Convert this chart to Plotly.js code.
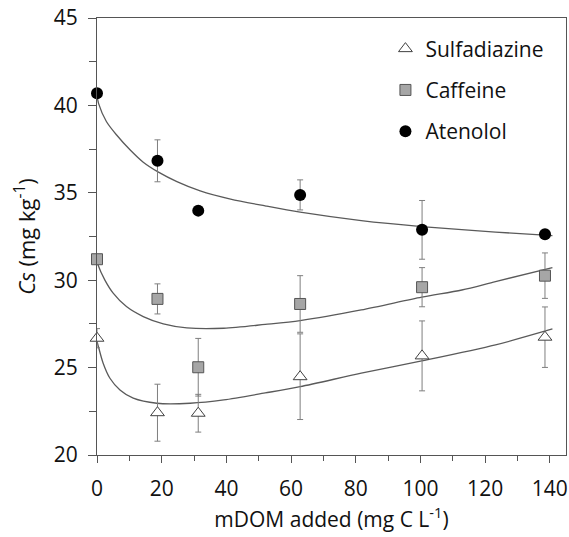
<!DOCTYPE html>
<html>
<head>
<meta charset="utf-8">
<script src="https://cdn.plot.ly/plotly-3.0.1.min.js"></script>
<style>html,body{margin:0;padding:0;background:#fff;}#chart{width:569px;height:537px;}</style>
</head>
<body>
<div id="chart"></div>
<script>
// Measured points (mDOM added, mg C/L)
const doseX = [0, 18.7, 31.3, 62.8, 100.5, 138.5];

const sulfadiazineY   = [26.68, 22.42, 22.39, 24.48, 25.67, 26.74];
const sulfadiazineErr = [0.55, 1.63, 1.08, 2.45, 2.0, 1.73];
const caffeineY       = [31.2, 28.93, 25.02, 28.64, 29.6, 30.26];
const caffeineErr     = [0, 0.86, 1.65, 1.62, 1.12, 1.3];
const atenololY       = [40.7, 36.83, 33.98, 34.88, 32.88, 32.63];
const atenololErr     = [0, 1.2, 0, 0.86, 1.68, 0];

// Fitted curves
const atenololFitX = [0, 0.5, 2.9, 6.0, 10.2, 14.3, 19.0, 24.7, 31.9, 41.3, 52, 62.8, 81.7, 100.4, 123.2, 140.8];
const atenololFitY = [40.6, 40.1, 39.08, 38.32, 37.46, 36.75, 36.18, 35.64, 35.11, 34.64, 34.25, 33.89, 33.41, 33.07, 32.75, 32.55];
const caffeineFitX = [0, 0.3, 2.4, 5.0, 9.1, 14.3, 20.5, 27.8, 39.2, 52, 62.8, 81.7, 100.4, 112.8, 123.2, 140.8];
const caffeineFitY = [31.1, 30.88, 30.02, 29.26, 28.49, 27.92, 27.5, 27.27, 27.25, 27.47, 27.69, 28.30, 29.03, 29.44, 29.92, 30.72];
const sulfaFitX = [0, 0.3, 1.9, 4.0, 7.1, 11.2, 18.5, 28.8, 39.2, 52, 62.8, 81.7, 100.4, 123.2, 140.8];
const sulfaFitY = [26.5, 26.3, 25.25, 24.39, 23.72, 23.25, 22.96, 22.96, 23.15, 23.55, 23.91, 24.68, 25.38, 26.30, 27.21];

const xTickVals = [0, 20, 40, 60, 80, 100, 120, 140];
const yTickVals = [20, 25, 30, 35, 40, 45];

const FONT = '"Open Sans", "Noto Sans", sans-serif';
const errStyle = {type: 'data', visible: true, color: '#7f7f7f', thickness: 1, width: 3};
const fitLine = {color: '#5a5a5a', width: 1.3, shape: 'spline', smoothing: 0.8};

const traces = [
  {x: atenololFitX, y: atenololFitY, mode: 'lines', line: fitLine, showlegend: false, hoverinfo: 'skip'},
  {x: caffeineFitX, y: caffeineFitY, mode: 'lines', line: fitLine, showlegend: false, hoverinfo: 'skip'},
  {x: sulfaFitX, y: sulfaFitY, mode: 'lines', line: fitLine, showlegend: false, hoverinfo: 'skip'},
  {x: doseX, y: sulfadiazineY, name: 'Sulfadiazine', mode: 'markers', legendgroup: 'a', legendrank: 1,
   error_y: Object.assign({array: sulfadiazineErr}, errStyle), cliponaxis: false,
   marker: {symbol: 'triangle-up', size: 12, color: '#ffffff', line: {color: '#404040', width: 1}}},
  {x: doseX, y: caffeineY, name: 'Caffeine', mode: 'markers', legendgroup: 'b', legendrank: 2,
   error_y: Object.assign({array: caffeineErr}, errStyle), cliponaxis: false,
   marker: {symbol: 'square', size: 11, color: '#a6a6a6', line: {color: '#555555', width: 1}}},
  {x: doseX, y: atenololY, name: 'Atenolol', mode: 'markers', legendgroup: 'c', legendrank: 3,
   error_y: Object.assign({array: atenololErr}, errStyle), cliponaxis: false,
   marker: {symbol: 'circle', size: 12, color: '#000000'}}
];

const layout = {
  width: 569, height: 537,
  margin: {l: 97, r: 3, t: 18, b: 82},
  paper_bgcolor: '#ffffff', plot_bgcolor: '#ffffff',
  font: {family: FONT, size: 21, color: '#111111'},
  showlegend: true,
  legend: {x: 0.615, xanchor: 'left', y: 0.976, yanchor: 'top', bgcolor: 'rgba(0,0,0,0)',
           traceorder: 'grouped', tracegroupgap: 11, font: {family: FONT, size: 21, color: '#111111'}},
  xaxis: {
    range: [0, 145], tickvals: xTickVals, ticks: 'outside', ticklen: 7, tickwidth: 1, tickcolor: '#555',
    showline: true, linecolor: '#555', linewidth: 1, mirror: true, showgrid: false, zeroline: false,
    ticklabelstandoff: 8, tickfont: {family: FONT, size: 21, color: '#111111'},
    minor: {dtick: 10, tick0: 0, ticks: 'outside', ticklen: 5, tickcolor: '#555', showgrid: false},
    title: {text: 'mDOM added (mg C L<sup>-1</sup>)', font: {family: FONT, size: 21, color: '#111111'}, standoff: 9}
  },
  yaxis: {
    range: [20, 45], tickvals: yTickVals, ticks: 'outside', ticklen: 8, tickwidth: 1, tickcolor: '#555',
    showline: true, linecolor: '#555', linewidth: 1, mirror: true, showgrid: false, zeroline: false,
    ticklabelstandoff: 6, tickfont: {family: FONT, size: 21, color: '#111111'},
    minor: {dtick: 2.5, tick0: 20, ticks: 'outside', ticklen: 7, tickcolor: '#555', showgrid: false},
    title: {text: '<i>Cs</i> (mg kg<sup>-1</sup>)', font: {family: FONT, size: 22, color: '#111111'}, standoff: 12}
  }
};

Plotly.newPlot('chart', traces, layout, {displayModeBar: false, staticPlot: true});
</script>
</body>
</html>
